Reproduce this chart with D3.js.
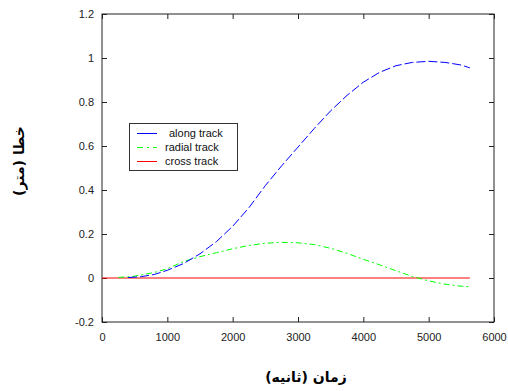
<!DOCTYPE html>
<html>
<head>
<meta charset="utf-8">
<script src="https://cdn.jsdelivr.net/npm/d3@7"></script>
<style>
  html, body { margin: 0; padding: 0; background: #fff; }
  svg { display: block; }
</style>
</head>
<body>
<svg id="chart" width="508" height="391"></svg>
<script>
// Along-track error (m) against time (s)
const alongTime = [400, 600, 800, 1000, 1250, 1500, 1750, 2000, 2250, 2500, 2750, 3000, 3250, 3500, 3750, 4000, 4250, 4500, 4750, 5000, 5250, 5500, 5630];
const alongErr  = [0.002, 0.006, 0.016, 0.035, 0.066, 0.11, 0.165, 0.235, 0.32, 0.42, 0.51, 0.595, 0.68, 0.76, 0.83, 0.89, 0.935, 0.965, 0.98, 0.985, 0.98, 0.968, 0.955];

// Radial-track error
const radialTime = [250, 450, 600, 800, 1000, 1250, 1500, 1750, 2000, 2250, 2500, 2750, 3000, 3250, 3500, 3750, 4000, 4250, 4500, 4750, 5000, 5250, 5450, 5630];
const radialErr  = [0.003, 0.006, 0.014, 0.025, 0.042, 0.075, 0.097, 0.115, 0.133, 0.148, 0.158, 0.162, 0.16, 0.152, 0.135, 0.112, 0.085, 0.06, 0.033, 0.007, -0.013, -0.028, -0.036, -0.04];

// Cross-track error
const crossTime = [0, 5630];
const crossErr  = [0, 0];

const xTicks = [0, 1000, 2000, 3000, 4000, 5000, 6000];
const yTicks = [-0.2, 0, 0.2, 0.4, 0.6, 0.8, 1, 1.2];

const legendLabels = ["along track", "radial track", "cross track"];
const seriesColors = ["#0000ff", "#00ff00", "#ff0000"];
const seriesDash   = ["9,3", "6,3,2,3", null];

const svg = d3.select("#chart");
const plot = { left: 102, top: 14, width: 392, height: 308 };

const x = d3.scaleLinear().domain([0, 6000]).range([plot.left, plot.left + plot.width]);
const y = d3.scaleLinear().domain([-0.2, 1.2]).range([plot.top + plot.height, plot.top]);

const fmt = d => String(d);
const tickFont = "Liberation Sans, Arial, sans-serif";

// Axes: box with inward ticks on all four sides
function styleAxis(g) {
  g.selectAll("path").remove();
  g.selectAll("line").attr("stroke", "#222");
  g.selectAll("text").attr("fill", "#222").style("font-family", tickFont).style("font-size", "11px");
}

svg.append("g")
  .attr("transform", `translate(0,${plot.top + plot.height})`)
  .call(d3.axisBottom(x).tickValues(xTicks).tickFormat(fmt).tickSizeInner(-5).tickPadding(11))
  .call(styleAxis);

svg.append("g")
  .attr("transform", `translate(${plot.left},0)`)
  .call(d3.axisLeft(y).tickValues(yTicks).tickFormat(fmt).tickSizeInner(-5).tickPadding(8))
  .call(styleAxis);

svg.append("g")
  .attr("transform", `translate(0,${plot.top})`)
  .call(d3.axisTop(x).tickValues(xTicks).tickFormat("").tickSizeInner(-5))
  .call(styleAxis);

svg.append("g")
  .attr("transform", `translate(${plot.left + plot.width},0)`)
  .call(d3.axisRight(y).tickValues(yTicks).tickFormat("").tickSizeInner(-5))
  .call(styleAxis);

svg.append("rect")
  .attr("x", plot.left).attr("y", plot.top)
  .attr("width", plot.width).attr("height", plot.height)
  .attr("fill", "none").attr("stroke", "#222").attr("stroke-width", 1);

// Series lines
const line = d3.line().x(d => x(d[0])).y(d => y(d[1]));
const series = [
  d3.zip(alongTime, alongErr),
  d3.zip(radialTime, radialErr),
  d3.zip(crossTime, crossErr)
];

// Draw red first so the others sit on top
[2, 1, 0].forEach(i => {
  svg.append("path")
    .datum(series[i])
    .attr("d", line)
    .attr("fill", "none")
    .attr("stroke", seriesColors[i])
    .attr("stroke-width", 1)
    .attr("stroke-dasharray", seriesDash[i]);
});

// Legend
const legend = svg.append("g");
legend.append("rect")
  .attr("x", 129.5).attr("y", 123.5).attr("width", 108).attr("height", 47)
  .attr("fill", "#fff").attr("stroke", "#333").attr("stroke-width", 1);

const rowY = [133.5, 147.5, 161.5];
const textX = [169, 165, 165];
legendLabels.forEach((lab, i) => {
  legend.append("line")
    .attr("x1", 137).attr("x2", 157)
    .attr("y1", rowY[i]).attr("y2", rowY[i])
    .attr("stroke", seriesColors[i]).attr("stroke-width", 1)
    .attr("stroke-dasharray", i === 1 ? "6,4,2,4" : null);
  legend.append("text")
    .attr("x", textX[i]).attr("y", rowY[i])
    .attr("dy", "0.35em")
    .style("font-family", tickFont).style("font-size", "11px")
    .attr("fill", "#111")
    .text(lab);
});

// Axis titles
svg.append("text")
  .attr("x", 306).attr("y", 377)
  .attr("text-anchor", "middle")
  .attr("dy", "0.35em")
  .attr("direction", "rtl")
  .style("font-family", "DejaVu Sans, sans-serif")
  .style("font-weight", "bold").style("font-size", "14px")
  .attr("fill", "#000")
  .text("زمان (ثانیه)");

svg.append("text")
  .attr("transform", `translate(19,161) rotate(-90)`)
  .attr("text-anchor", "middle")
  .attr("dy", "0.35em")
  .attr("direction", "rtl")
  .style("font-family", "DejaVu Sans, sans-serif")
  .style("font-weight", "bold").style("font-size", "14px")
  .attr("fill", "#000")
  .text("خطا (متر)");
</script>
</body>
</html>
